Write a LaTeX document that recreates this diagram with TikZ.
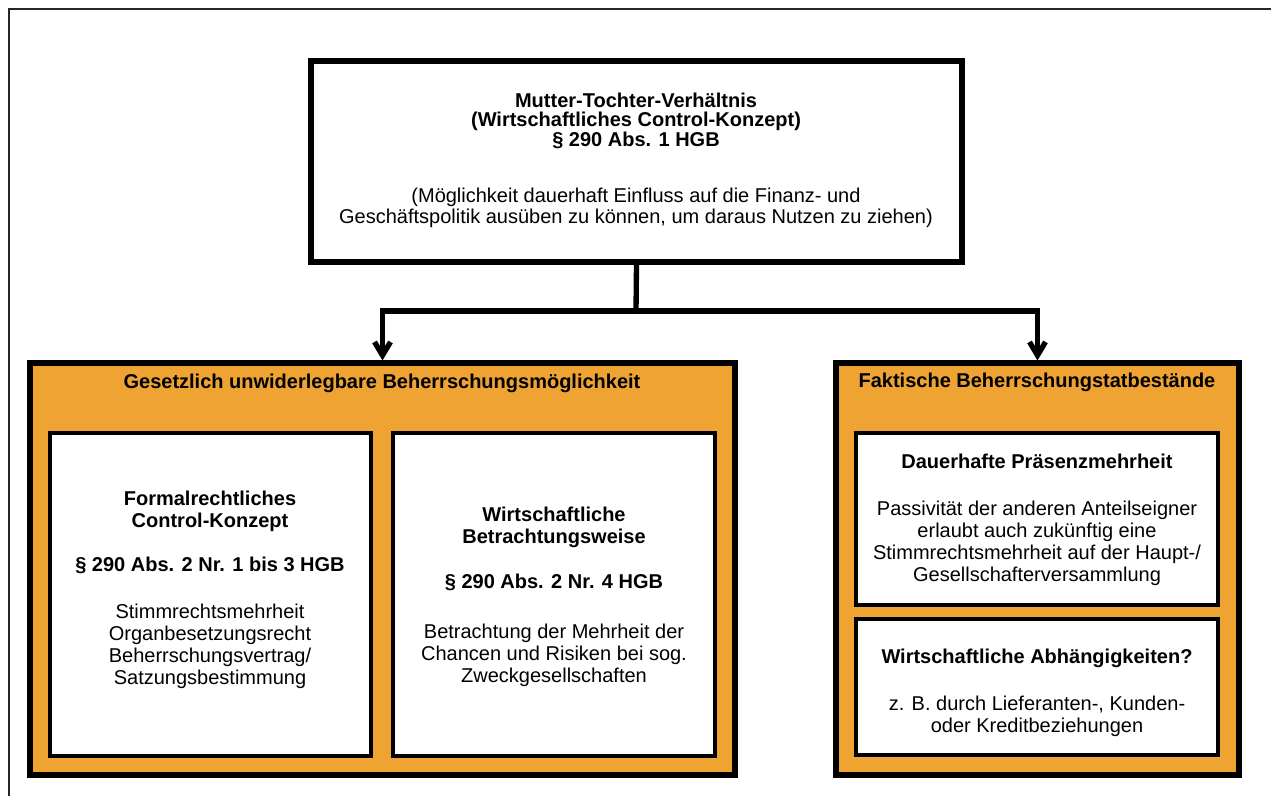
\documentclass[tikz,border=0pt]{standalone}
\usepackage{fontspec}
\setmainfont{Liberation Sans}
\usetikzlibrary{arrows.meta,fit}
\definecolor{panelorange}{RGB}{239,163,50}
\newcommand\ttl[1]{{\bfseries #1}}

\begin{document}
\begin{tikzpicture}[x=0.75pt,y=-0.75pt,
  frame/.style={draw=black!85, line width=1.1pt},
  panel/.style={rectangle, draw=black, line width=3.8pt, fill=panelorange, inner sep=0pt},
  card/.style={rectangle, draw=black, line width=3.4pt, fill=white, inner sep=0pt},
  txt/.style={align=center, font=\fontsize{15}{16.5}\selectfont, inner sep=0pt},
  toptxt/.style={align=center, font=\fontsize{15}{14.6}\selectfont, inner sep=0pt},
  link/.style={draw=black, line width=4pt},
  arrowlink/.style={link, -{Straight Barb[length=10pt,width=12pt]}},
]
\useasboundingbox (0,0) rectangle (1271,796);

% page frame (open to the right and bottom)
\draw[frame] (9,796) -- (9,9) -- (1271,9);

% main definition box
\node[card, line width=3.8pt, fit={(311,61) (962,262)}] (top) {};
\node[toptxt] (toptext) at (636,160.5) {%
  \ttl{Mutter-Tochter-Verhältnis}\\
  \ttl{(Wirtschaftliches Control-Konzept)}\\
  \ttl{§ 290 Abs. 1 HGB}\\[27.5pt]
  (Möglichkeit dauerhaft Einfluss auf die Finanz- und\\[1.5pt]
  Geschäftspolitik ausüben zu können, um daraus Nutzen zu ziehen)};

% two panels
\node[panel, fit={(30,363) (735,775)}] (gov) {};
\node[panel, fit={(836,363) (1239,775)}] (fak) {};
\node[txt] (govhead) at (382,383) {\ttl{Gesetzlich unwiderlegbare Beherrschungsmöglichkeit}};
\node[txt] (fakhead) at (1037,382) {\ttl{Faktische Beherrschungstatbestände}};

% cards of the left panel
\node[card, fit={(50,433) (371,756)}] (formal) {};
\node[card, fit={(393,433) (715,756)}] (wirt) {};
\node[txt] (formaltext) at (210,590) {%
  \ttl{Formalrechtliches}\\
  \ttl{Control-Konzept}\\[16.5pt]
  \ttl{§ 290 Abs. 2 Nr. 1 bis 3 HGB}\\[19pt]
  Stimmrechtsmehrheit\\
  Organbesetzungsrecht\\
  Beherrschungsvertrag/\\
  Satzungsbestimmung};
\node[txt] (wirttext) at (554,596.5) {%
  \ttl{Wirtschaftliche}\\
  \ttl{Betrachtungsweise}\\[17pt]
  \ttl{§ 290 Abs. 2 Nr. 4 HGB}\\[21pt]
  Betrachtung der Mehrheit der\\
  Chancen und Risiken bei sog.\\
  Zweckgesellschaften};

% cards of the right panel
\node[card, fit={(856,433) (1218,605)}] (praes) {};
\node[card, fit={(856,619) (1218,755)}] (abh) {};
\node[txt] (praestext) at (1037,519.5) {%
  \ttl{Dauerhafte Präsenzmehrheit}\\[18.5pt]
  Passivität der anderen Anteilseigner\\
  erlaubt auch zukünftig eine\\
  Stimmrechtsmehrheit auf der Haupt-/\\
  Gesellschafterversammlung};
\node[txt] (abhtext) at (1037,692.5) {%
  \ttl{Wirtschaftliche Abhängigkeiten?}\\[19pt]
  z. B. durch Lieferanten-, Kunden-\\
  oder Kreditbeziehungen};

% connectors
\coordinate (split) at (636,311);
\draw[link] (top.south) -- (split);
\draw[arrowlink] (split) -| (gov.north);
\draw[arrowlink] (split) -| (fak.north);
\end{tikzpicture}
\end{document}
